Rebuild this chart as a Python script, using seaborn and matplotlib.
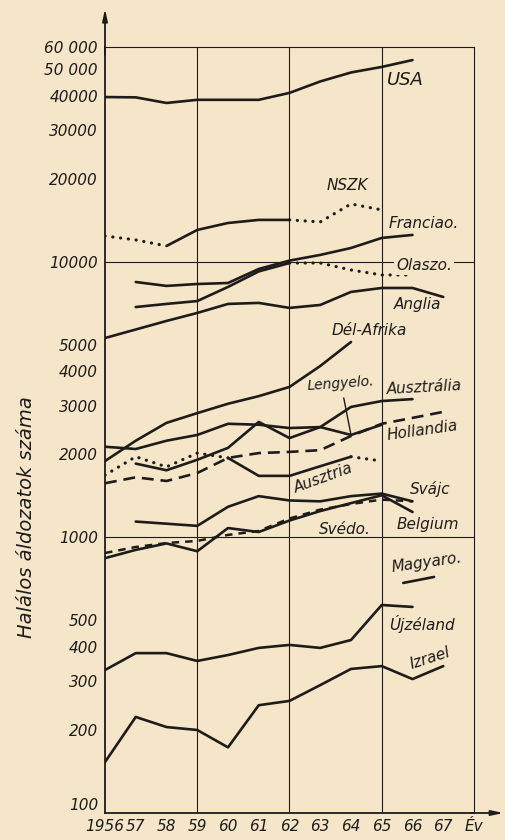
import matplotlib
matplotlib.use("Agg")
import matplotlib.pyplot as plt
import numpy as np
import pandas as pd
import seaborn as sns

# ---------------- data ----------------
usa_years = list(range(1956, 1967))
usa = [39500, 39400, 37600, 38600, 38600, 38600, 40900, 45000, 48500, 50800, 53800]
nszk_years = list(range(1956, 1966))
nszk = [12380, 11980, 11390, 13020, 13800, 14160, 14160, 13920, 16180, 15390]
franciao_years = list(range(1957, 1967))
franciao = [8430, 8160, 8290, 8360, 9400, 10080, 10570, 11200, 12180, 12490]
olaszo_years = list(range(1957, 1967))
olaszo = [6840, 7020, 7190, 8090, 9210, 9880, 9880, 9320, 8940, 8940]
anglia_years = list(range(1956, 1968))
anglia = [5280, 5670, 6090, 6510, 7020, 7080, 6790, 6960, 7760, 8020, 8020, 7440]
delafrika_years = list(range(1956, 1965))
delafrika = [1890, 2240, 2600, 2820, 3050, 3250, 3510, 4180, 5110]
ausztralia_years = list(range(1956, 1967))
ausztralia = [2130, 2090, 2240, 2350, 2580, 2560, 2490, 2510, 2970, 3120, 3170]
lengyelo_years = list(range(1957, 1966))
lengyelo = [1850, 1750, 1910, 2110, 2620, 2290, 2510, 2350, 2560]
hollandia_years = list(range(1956, 1968))
hollandia = [1570, 1650, 1600, 1710, 1940, 2020, 2040, 2070, 2330, 2580, 2710, 2850]
ausztria_years = list(range(1956, 1966))
ausztria = [1680, 1960, 1800, 2020, 1940, 1670, 1670, 1810, 1960, 1890]
svajc_years = list(range(1957, 1967))
svajc = [1140, 1120, 1100, 1290, 1410, 1360, 1350, 1410, 1440, 1350]
belgium_years = list(range(1956, 1967))
belgium = [840, 900, 950, 890, 1080, 1045, 1150, 1245, 1330, 1420, 1235]
svedo_years = list(range(1956, 1967))
svedo = [877, 922, 953, 970, 1020, 1054, 1170, 1260, 1320, 1370, 1350]
magyaro_years = [1965.7, 1966.7]
magyaro = [683, 718]
ujzeland_years = list(range(1956, 1967))
ujzeland = [330, 380, 380, 356, 374, 397, 407, 397, 424, 568, 559]
izrael_years = list(range(1956, 1968))
izrael = [153, 223, 205, 200, 173, 246, 255, 291, 333, 341, 306, 341]

x_ticks = list(range(1956, 1969))
x_labels = ["1956", "57", "58", "59", "60", "61", "62", "63", "64", "65", "66", "67", "Év"]
y_ticks = [100, 200, 300, 400, 500, 1000, 2000, 3000, 4000, 5000,
           10000, 20000, 30000, 40000, 50000, 60000]
y_labels = ["100", "200", "300", "400", "500", "1000", "2000", "3000", "4000", "5000",
            "10000", "20000", "30000", "40000", "50 000", "60 000"]
y_minor = [600, 700, 800, 900, 6000, 7000, 8000, 9000]

series = {
    "USA": (usa_years, usa), "NSZK": (nszk_years, nszk),
    "Franciao.": (franciao_years, franciao), "Olaszo.": (olaszo_years, olaszo),
    "Anglia": (anglia_years, anglia), "Dél-Afrika": (delafrika_years, delafrika),
    "Ausztrália": (ausztralia_years, ausztralia), "Lengyelo.": (lengyelo_years, lengyelo),
    "Hollandia": (hollandia_years, hollandia), "Ausztria": (ausztria_years, ausztria),
    "Svájc": (svajc_years, svajc), "Belgium": (belgium_years, belgium),
    "Svédo.": (svedo_years, svedo), "Magyaro.": (magyaro_years, magyaro),
    "Újzéland": (ujzeland_years, ujzeland), "Izrael": (izrael_years, izrael),
}
df = pd.concat([pd.DataFrame({"orszag": k, "ev": v[0], "halott": v[1]})
                for k, v in series.items()], ignore_index=True)

# ---------------- styles ----------------
PAPER = "#f6e6c9"
INK = "#1e1c1a"
DOT = dict(linestyle=(0, (0.05, 2.4)), dash_capstyle="round", lw=2.3)
SOLID = dict(linestyle="-", lw=1.9, solid_capstyle="round")
DASH = dict(linestyle=(0, (4.5, 2.6)), lw=1.9)
DASH2 = dict(linestyle=(0, (3.0, 2.4)), lw=1.8)
segments = {
    "NSZK": [(1956, 1958, DOT), (1958, 1962, SOLID), (1962, 1965, DOT)],
    "Olaszo.": [(1957, 1962, SOLID), (1962, 1966, DOT)],
    "Ausztria": [(1956, 1960, DOT), (1960, 1964, SOLID), (1964, 1965, DOT)],
    "Hollandia": [(1956, 1967, DASH)],
    "Svédo.": [(1956, 1966, DASH2)],
}

sns.set_style("white")
plt.rcParams["font.family"] = ["DejaVu Sans"]
plt.rcParams["font.style"] = "italic"

W, H = 506, 840
fig = plt.figure(figsize=(W / 100, H / 100), dpi=100, facecolor=PAPER)
L, R, B, T = 105, 474, 813, 47
ax = fig.add_axes([L / W, 1 - B / H, (R - L) / W, (B - T) / H])
ax.set_facecolor(PAPER)
ax.set_yscale("log")
ax.set_xlim(1956, 1968)
ax.set_ylim(100, 60000)

# grid / frame
for xv in [1959, 1962, 1965]:
    ax.axvline(xv, color=INK, lw=0.8, zorder=1)
for yv in [1000, 10000]:
    ax.axhline(yv, color=INK, lw=0.8, zorder=1)
for s in ["top", "right"]:
    ax.spines[s].set_linewidth(0.8)
    ax.spines[s].set_color(INK)
for s in ["left", "bottom"]:
    ax.spines[s].set_linewidth(1.3)
    ax.spines[s].set_color(INK)

# lines
for name in series:
    sub = df[df.orszag == name]
    segs = segments.get(name, [(sub.ev.min(), sub.ev.max(), SOLID)])
    for a, b, st in segs:
        part = sub[(sub.ev >= a) & (sub.ev <= b)]
        sns.lineplot(data=part, x="ev", y="halott", ax=ax, color=INK,
                     legend=False, zorder=3, **st)

ax.set_xlabel("")
ax.set_ylabel("")
ax.set_xticks(x_ticks)
ax.set_xticklabels(x_labels, fontsize=11, style="italic")
ax.set_yticks(y_ticks)
ax.set_yticklabels(y_labels, fontsize=11, style="italic")
ax.set_yticks(y_minor, minor=True)
ax.yaxis.set_minor_formatter(matplotlib.ticker.NullFormatter())
ax.tick_params(axis="y", which="both", direction="in", length=7, width=0.9,
               pad=5, colors=INK)
ax.tick_params(axis="x", which="both", direction="in", length=5, width=0.9,
               pad=4, colors=INK)
# the "100" label sits a little above the corner, as in the original
ax.get_yticklabels()[0].set_va("bottom")

# axis arrows
ax.annotate("", xy=(0, 1.05), xycoords="axes fraction", xytext=(0, 0.99),
            arrowprops=dict(arrowstyle="-|>,head_length=0.7,head_width=0.15",
                            color=INK, lw=1.3, shrinkA=0, shrinkB=0),
            annotation_clip=False)
ax.annotate("", xy=(1.08, 0), xycoords="axes fraction", xytext=(0.99, 0),
            arrowprops=dict(arrowstyle="-|>,head_length=0.7,head_width=0.15",
                            color=INK, lw=1.3, shrinkA=0, shrinkB=0),
            annotation_clip=False)

# labels  (text, px x, px y, rotation, size)
labels = [
    ("USA", 405, 80, 0, 13), ("NSZK", 347, 186, 0, 11),
    ("Franciao.", 424, 224, 0, 11), ("Anglia", 418, 305, 0, 11),
    ("Dél-Afrika", 369, 331, 0, 11), ("Ausztrália", 424, 388, 3, 11),
    ("Hollandia", 422, 431, 8, 11), ("Ausztria", 323, 478, 20, 11),
    ("Svájc", 430, 489, 0, 11), ("Belgium", 428, 525, 0, 11),
    ("Svédo.", 345, 529, 0, 11), ("Magyaro.", 427, 563, 8, 11),
    ("Újzéland", 422, 624, 0, 11), ("Izrael", 430, 658, 18, 11),
]
for t, x, y, rot, fs in labels:
    fig.text(x / W, 1 - y / H, t, ha="center", va="center", rotation=rot,
             fontsize=fs, style="italic", color=INK)
fig.text(424 / W, 1 - 265 / H, "Olaszo.", ha="center", va="center", fontsize=11,
         style="italic", color=INK,
         bbox=dict(facecolor=PAPER, edgecolor="none", pad=1.5))
ax.annotate("Lengyelo.", xy=(1964, lengyelo[lengyelo_years.index(1964)]),
            xytext=(341 / W, 1 - 384 / H), textcoords="figure fraction",
            ha="center", va="center", rotation=4, fontsize=10, style="italic",
            color=INK,
            arrowprops=dict(arrowstyle="-", color=INK, lw=1.0,
                            shrinkA=1, shrinkB=0))

fig.text(27 / W, 1 - 517 / H, "Halálos áldozatok száma", rotation=90,
         ha="center", va="center", fontsize=14, style="italic", color=INK)

fig.savefig("out.png", dpi=100, facecolor=PAPER)
